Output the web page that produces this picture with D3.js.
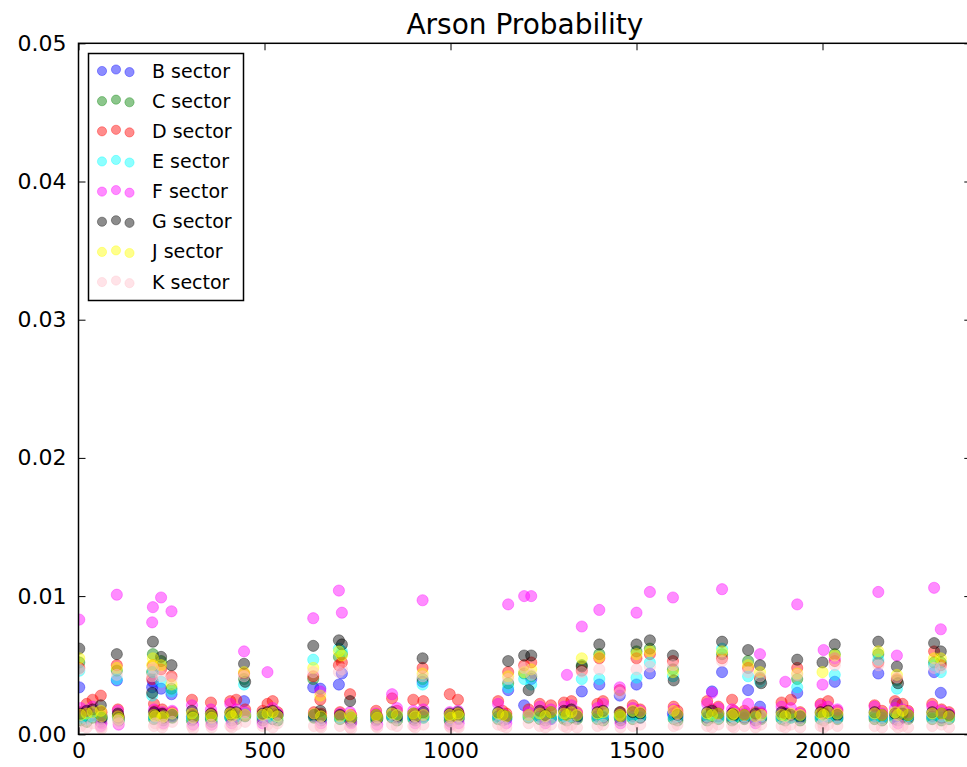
<!DOCTYPE html>
<html>
<head>
<meta charset="utf-8">
<script src="https://cdn.jsdelivr.net/npm/d3@7"></script>
<style>
  html, body { margin: 0; padding: 0; background: #ffffff; }
  svg { display: block; font-family: "DejaVu Sans", sans-serif; }
</style>
</head>
<body>
<svg id="chart" width="967" height="767"></svg>
<script>
// ---- data -------------------------------------------------------------
const sectorNames = ["B sector", "C sector", "D sector", "E sector",
                     "F sector", "G sector", "J sector", "K sector"];
const sectorColors = ["#0000ff", "#008000", "#ff0000", "#00ffff",
                      "#ff00ff", "#000000", "#ffff00", "#ffc0cb"];

// record index of every observation (shared by all sectors)
const rowIndex = [2, 6, 22, 38, 60, 62, 103, 106, 108, 198,
  200, 203, 206, 222, 225, 228, 250, 252, 305, 308,
  356, 358, 408, 412, 424, 445, 448, 495, 508, 522,
  535, 631, 633, 650, 652, 700, 703, 708, 730, 733,
  800, 803, 843, 856, 900, 905, 925, 927, 998, 1000,
  1020, 1022, 1128, 1140, 1150, 1155, 1198, 1210, 1217, 1240,
  1255, 1270, 1305, 1313, 1325, 1340, 1353, 1395, 1400, 1410,
  1455, 1457, 1490, 1500, 1510, 1536, 1598, 1600, 1610, 1690,
  1703, 1720, 1730, 1757, 1762, 1790, 1800, 1820, 1832, 1835,
  1890, 1900, 1915, 1932, 1940, 1995, 2000, 2003, 2015, 2033,
  2040, 2140, 2150, 2160, 2195, 2200, 2203, 2215, 2230, 2295,
  2300, 2318, 2320, 2340];

// probabilities per sector, in units of 0.0001
const VALUE_UNIT = 1e-4;
const probB = [34,13,12,14,11,13,39,13,11,34, 38,13,15,33,14,12,29,13,13,11,
  12,14,13,12,13,24,14,12,13,11, 14,34,13,33,12,36,13,44,12,11,
  12,11,13,12,13,12,38,13,12,11, 13,12,13,12,11,32,21,14,40,13,
  12,11,13,12,14,12,31,13,36,12, 28,12,13,36,12,44,15,13,12,12,
  31,13,45,12,13,12,32,13,20,12, 13,12,13,30,12,13,14,12,13,38,
  12,13,44,12,13,22,12,13,12,13, 45,30,12,13];
const probC = [52,10,9,12,9,11,46,14,10,45, 58,11,12,53,13,10,33,12,10,12,
  11,9,12,10,11,40,13,10,12,11, 10,40,12,14,10,56,11,58,10,9,
  10,11,12,10,11,10,40,12,10,9, 12,11,11,10,12,37,44,12,42,11,
  10,12,11,10,12,11,50,11,58,10, 12,10,11,60,12,62,47,11,10,10,
  12,11,58,10,11,11,53,10,41,11, 11,10,12,40,10,11,12,10,12,58,
  11,11,58,10,11,39,10,12,11,11, 52,52,10,11];
const probD = [48,16,22,25,28,16,50,18,13,40, 50,22,17,47,18,15,42,16,25,14,
  23,15,24,16,25,44,18,17,22,24, 16,42,16,25,15,50,16,52,29,14,
  17,13,26,17,25,15,48,24,29,14, 25,15,24,17,15,45,50,18,52,22,
  16,21,23,17,24,16,46,22,55,24, 32,16,21,55,18,58,53,20,17,24,
  18,20,55,25,17,17,48,16,40,15, 23,16,25,48,16,22,18,16,24,53,
  17,21,52,17,24,40,16,22,17,22, 60,50,18,16];
const probE = [46,12,11,13,12,12,40,12,11,28, 45,12,14,38,12,13,31,14,12,13,
  13,11,12,14,13,36,15,13,12,12, 13,54,14,12,11,62,12,60,13,12,
  13,12,13,14,12,13,36,12,13,11, 12,13,12,13,12,34,40,13,36,12,
  13,12,13,12,13,13,40,12,40,13, 13,12,12,41,13,52,42,12,13,13,
  14,12,62,13,12,13,42,12,38,13, 12,13,12,34,13,12,13,12,13,43,
  12,13,54,12,12,33,13,16,13,12, 50,45,13,12];
const probF = [83,19,17,20,6,8,101,17,7,81, 92,18,15,99,16,8,89,17,21,7,
  18,7,22,8,18,60,16,8,45,19, 15,84,15,31,8,104,15,88,16,8,
  15,7,29,19,17,8,97,18,16,7, 17,8,22,15,8,94,100,16,100,20,
  8,18,20,43,21,15,78,19,90,22, 34,8,19,88,17,103,99,18,15,22,
  30,19,105,18,16,15,22,8,58,16, 20,38,19,94,15,21,36,61,20,55,
  18,20,103,15,19,57,8,18,16,20, 106,76,17,15];
const probG = [62,15,17,18,21,12,58,15,12,30, 67,16,14,56,15,12,50,14,17,13,
  15,13,16,14,16,51,38,15,16,17, 14,64,14,17,12,68,14,65,24,12,
  14,12,16,13,15,12,55,16,15,12, 16,14,16,14,13,53,57,32,57,17,
  14,16,17,14,18,13,49,16,65,17, 16,13,16,65,15,68,57,39,14,16,
  17,15,67,15,14,14,61,15,50,37, 16,15,14,54,13,16,52,15,17,65,
  14,16,67,14,15,49,37,15,14,16, 66,60,15,14];
const probJ = [55,14,15,16,17,13,48,13,11,50, 55,14,13,50,12,13,36,15,15,12,
  14,12,15,13,15,45,14,14,15,16, 13,48,15,28,13,60,13,57,14,12,
  14,12,15,14,15,13,44,14,14,12, 15,13,15,14,13,42,45,14,47,15,
  13,16,15,14,16,14,55,15,56,16, 14,13,17,58,16,60,45,17,15,15,
  14,15,60,14,15,14,50,13,45,14, 14,13,15,44,14,15,45,14,16,57,
  15,15,60,14,16,43,14,17,14,15, 55,55,15,13];
const probK = [47,6,5,8,5,4,43,10,8,42, 48,6,8,42,5,7,40,9,6,4,
  7,5,6,5,7,42,9,6,7,5, 8,45,6,6,5,45,6,47,5,4,
  6,5,7,6,6,5,42,7,6,5, 6,5,7,6,5,40,48,8,43,6,
  5,7,6,5,7,5,45,6,47,7, 30,5,6,47,7,49,50,6,7,6,
  5,7,53,6,5,6,45,5,42,7, 6,5,7,43,5,6,8,5,7,50,
  6,6,50,5,7,41,5,6,5,6, 48,48,7,5];

const xTickValues = [0, 500, 1000, 1500, 2000];
const yTickValues = [0, 0.01, 0.02, 0.03, 0.04, 0.05];
const chartTitle = "Arson Probability";

// ---- layout -----------------------------------------------------------
const svg = d3.select("#chart");
const W = 967, H = 767;
const plotLeft = 78.5, plotTop = 43.3, plotRight = 971.3, plotBottom = 734.3;

svg.append("rect").attr("width", W).attr("height", H).attr("fill", "#ffffff");

const x = d3.scaleLinear().domain([0, 2400]).range([plotLeft, plotRight]);
const y = d3.scaleLinear().domain([0, 0.05]).range([plotBottom, plotTop]);

const series = [probB, probC, probD, probE, probF, probG, probJ, probK]
  .map((vals, i) => ({
    name: sectorNames[i],
    color: sectorColors[i],
    points: vals.map((v, j) => ({ x: rowIndex[j], y: v * VALUE_UNIT }))
  }));

// ---- points -----------------------------------------------------------
svg.append("defs").append("clipPath").attr("id", "plot-area")
  .append("rect")
  .attr("x", plotLeft).attr("y", plotTop)
  .attr("width", plotRight - plotLeft).attr("height", plotBottom - plotTop);

const MARK_ALPHA = 0.45;
const plot = svg.append("g").attr("clip-path", "url(#plot-area)");
series.forEach(s => {
  plot.append("g")
    .selectAll("circle")
    .data(s.points)
    .join("circle")
    .attr("cx", d => x(d.x))
    .attr("cy", d => y(d.y))
    .attr("r", 5.6)
    .attr("fill", s.color).attr("fill-opacity", MARK_ALPHA)
    .attr("stroke", s.color).attr("stroke-opacity", MARK_ALPHA)
    .attr("stroke-width", 0.8);
});

// ---- axes (inward ticks on all four sides) ----------------------------
function styleAxis(g, fontSize) {
  g.select(".domain").remove();
  g.selectAll(".tick line").attr("stroke", "#000").attr("stroke-width", 1);
  g.selectAll(".tick text")
    .attr("fill", "#000")
    .attr("font-family", "DejaVu Sans, sans-serif")
    .attr("font-size", fontSize);
}

svg.append("g")
  .attr("transform", `translate(0,${plotBottom})`)
  .call(d3.axisBottom(x).tickValues(xTickValues).tickFormat(d3.format("d"))
    .tickSizeInner(-7).tickSizeOuter(0).tickPadding(8))
  .call(g => styleAxis(g, 22));

svg.append("g")
  .attr("transform", `translate(0,${plotTop})`)
  .call(d3.axisTop(x).tickValues(xTickValues).tickFormat(() => "")
    .tickSizeInner(-7).tickSizeOuter(0))
  .call(g => styleAxis(g, 22));

svg.append("g")
  .attr("transform", `translate(${plotLeft},0)`)
  .call(d3.axisLeft(y).tickValues(yTickValues).tickFormat(d3.format(".2f"))
    .tickSizeInner(-7).tickSizeOuter(0).tickPadding(12))
  .call(g => styleAxis(g, 22));

svg.append("g")
  .attr("transform", `translate(${plotRight},0)`)
  .call(d3.axisRight(y).tickValues(yTickValues).tickFormat(() => "")
    .tickSizeInner(-7).tickSizeOuter(0))
  .call(g => styleAxis(g, 22));

// frame
svg.append("rect")
  .attr("x", plotLeft).attr("y", plotTop)
  .attr("width", plotRight - plotLeft).attr("height", plotBottom - plotTop)
  .attr("fill", "none").attr("stroke", "#000").attr("stroke-width", 1.5);

// title
svg.append("text")
  .attr("x", (plotLeft + plotRight) / 2)
  .attr("y", 34)
  .attr("text-anchor", "middle")
  .attr("font-family", "DejaVu Sans, sans-serif")
  .attr("font-size", 28)
  .attr("fill", "#000")
  .text(chartTitle);

// ---- legend -----------------------------------------------------------
const legend = svg.append("g");
legend.append("rect")
  .attr("x", 88.5).attr("y", 53.5).attr("width", 155).attr("height", 247)
  .attr("fill", "#ffffff").attr("stroke", "#000").attr("stroke-width", 1.5);

const markerDx = [102, 116, 129.5];
const markerDy = [0.3, -1.2, 1.4];
series.forEach((s, i) => {
  const cy = 70.7 + i * 30.15;
  const row = legend.append("g");
  markerDx.forEach((mx, k) => {
    row.append("circle")
      .attr("cx", mx).attr("cy", cy + markerDy[k]).attr("r", 4.6)
      .attr("fill", s.color).attr("fill-opacity", MARK_ALPHA)
      .attr("stroke", s.color).attr("stroke-opacity", MARK_ALPHA)
      .attr("stroke-width", 0.8);
  });
  row.append("text")
    .attr("x", 152).attr("y", cy)
    .attr("dy", "0.36em")
    .attr("font-family", "DejaVu Sans, sans-serif")
    .attr("font-size", 19)
    .attr("fill", "#000")
    .text(s.name);
});
</script>
</body>
</html>
